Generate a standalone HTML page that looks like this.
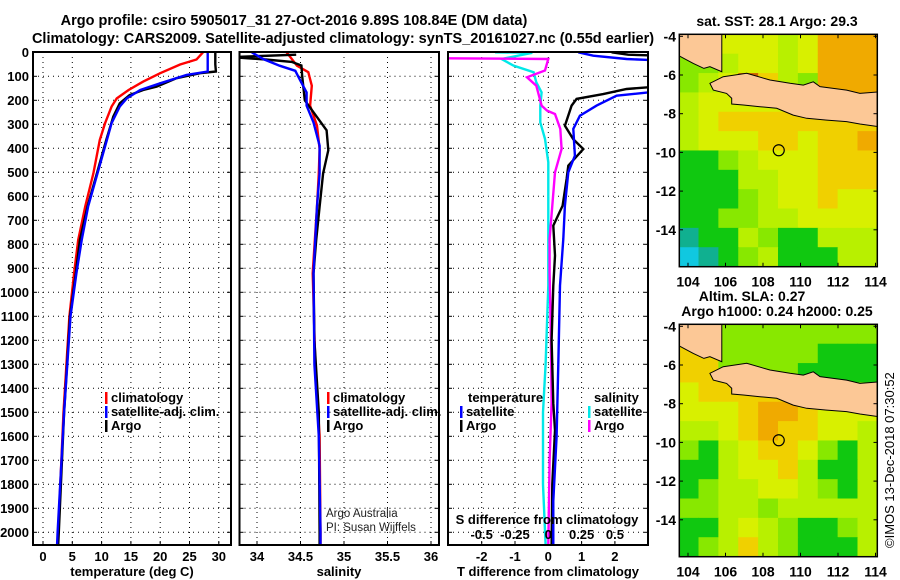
<!DOCTYPE html>
<html><head><meta charset="utf-8">
<style>
html,body{margin:0;padding:0;background:#fff;}
svg{display:block;font-family:"Liberation Sans",Arial,sans-serif;}
.b{font-weight:bold;font-size:14px;}
.h{font-weight:bold;font-size:14.5px;}
.t{font-weight:bold;font-size:13px;}
</style></head>
<body>
<svg id="c" width="900" height="580" viewBox="0 0 900 580" xmlns="http://www.w3.org/2000/svg">
<defs>
<clipPath id="cp1"><rect x="33" y="52" width="198" height="493"/></clipPath>
<clipPath id="cp2"><rect x="239.5" y="52" width="199.5" height="493"/></clipPath>
<clipPath id="cp3"><rect x="448" y="52" width="200" height="493"/></clipPath>
<clipPath id="cm1"><rect x="679.3" y="34.3" width="198" height="232.4"/></clipPath>
<clipPath id="cm2"><rect x="679.3" y="324.3" width="198" height="232.4"/></clipPath>
</defs>
<text x="294" y="25" text-anchor="middle" class="h">Argo profile: csiro 5905017_31 27-Oct-2016 9.89S 108.84E (DM data)</text>
<text x="343" y="43" text-anchor="middle" class="h">Climatology: CARS2009. Satellite-adjusted climatology: synTS_20161027.nc (0.55d earlier)</text>
<text x="777" y="26" text-anchor="middle" class="b">sat. SST: 28.1 Argo: 29.3</text>
<text x="752" y="301" text-anchor="middle" class="b">Altim. SLA: 0.27</text>
<text x="777" y="316" text-anchor="middle" class="b">Argo h1000: 0.24 h2000: 0.25</text>
<text transform="translate(894,548) rotate(-90)" font-size="13">©IMOS 13-Dec-2018 07:30:52</text>
<g id="g"></g>
</svg>
<script>
// ---------- data ----------
const tempDepth = [0,50,80,87,108,143,157,178,212,268,365,504,643,782,921,1100,1500,2000,2050];
const tempArgo  = [29.4,29.4,29.5,26.8,22.8,19.4,17.1,14.8,13.1,12.0,10.8,9.2,7.6,6.3,5.6,4.6,3.6,2.7,2.6];
const tempSatDepth = [0,80,94,129,157,192,226,295,365,504,643,782,921,1100,1500,2000,2050];
const tempSat   = [28.1,28.1,24.5,20.0,16.6,14.3,13.1,11.7,10.9,9.3,7.7,6.6,5.7,4.7,3.6,2.5,2.4];
const tempClimDepth = [0,30,51,87,122,157,192,226,295,365,504,643,782,921,1100,1500,2000,2050];
const tempClim  = [27.3,26.2,23.4,20.0,17.1,14.6,12.6,11.7,10.6,9.7,8.6,7.2,6.0,5.3,4.5,3.5,2.6,2.5];

const salArgoDepth = [10,20,30,40,55,100,200,270,325,408,505,643,782,921,1200,1500,2000,2050];
const salArgo   = [34.45,33.7,34.1,34.4,34.51,34.52,34.55,34.69,34.80,34.82,34.76,34.72,34.68,34.65,34.66,34.71,34.72,34.72];
const salSatDepth = [0,28,56,77,112,167,222,292,389,504,643,921,1300,1600,2000,2050];
const salSat    = [33.94,34.07,34.26,34.44,34.49,34.57,34.57,34.65,34.72,34.72,34.69,34.65,34.66,34.71,34.73,34.73];
const salClimDepth = [0,56,83,139,222,306,403,504,643,921,1300,1600,2000,2050];
const salClim   = [34.34,34.46,34.59,34.63,34.61,34.69,34.72,34.71,34.69,34.64,34.67,34.72,34.73,34.73];

const dTDepth = [0,10,15,140,146,153,174,194,222,306,362,403,472,528,639,722,847,972,1200,1462,1575,1800,2050];
const dTArgo  = [1.9,2.4,3.5,3.5,3.0,2.35,1.65,0.85,0.70,0.50,0.75,1.05,0.60,0.55,0.43,0.15,0.20,0.15,0.10,0.15,0.20,0.12,0.10];
const dTSatDepth = [0,14,28,35,160,181,222,264,319,431,500,639,778,972,1300,1600,1870,2050];
const dTSat   = [0.9,1.35,2.35,3.5,3.5,2.05,1.45,0.95,0.75,0.80,0.60,0.50,0.45,0.35,0.30,0.25,0.15,0.15];
const dSArgoDepth = [25,28,76,104,139,222,243,257,319,403,500,639,778,917,1200,1460,1700,2050];
const dSArgo  = [-0.75,0.0,-0.025,-0.16,-0.09,-0.05,-0.01,0.05,0.09,0.10,0.05,0.03,0.01,0.01,0.02,0.025,0.01,0.0];
const dSSatDepth = [0,2,28,56,83,125,167,222,292,361,458,639,972,1300,1500,1800,2050];
const dSSat   = [-0.4,-0.12,-0.35,-0.26,-0.11,-0.09,-0.05,-0.06,-0.06,-0.025,0.0,0.0,0.0,-0.02,-0.04,-0.04,-0.02];

const depthTicks = [0,100,200,300,400,500,600,700,800,900,1000,1100,1200,1300,1400,1500,1600,1700,1800,1900,2000];
const tempTicks = [0,5,10,15,20,25,30];
const salTicks = [34,34.5,35,35.5,36];
const salTickLabels = ["34","34.5","35","35.5","36"];
const dTTicks = [-2,-1,0,1,2];
const dSTicks = [-0.5,-0.25,0,0.25,0.5];
const dSTickLabels = ["-0.5","-0.25","0","0.25","0.5"];

const sstGrid = [
[6,6,6,6,6,5,6,8,8,8],
[4,4,5,6,6,5,6,8,8,8],
[4,5,6,9,7,5,4,8,8,8],
[5,6,6,6,6,6,6,6,8,8],
[5,6,7,7,7,7,7,7,7,7],
[5,6,6,6,7,7,6,7,7,8],
[3,3,4,5,6,6,6,7,7,7],
[3,3,3,5,5,6,6,7,7,7],
[3,3,3,4,5,6,6,7,6,6],
[3,3,4,4,5,5,6,6,6,6],
[2,3,3,5,4,3,3,5,5,5],
[1,2,3,4,5,3,3,3,5,5]];
const slaGrid = [
[7,7,4,4,4,4,4,4,4,4],
[7,7,4,4,4,4,4,3,3,3],
[7,7,4,4,4,4,3,3,3,3],
[6,7,7,7,7,7,6,6,6,5],
[6,6,6,7,8,8,7,6,6,6],
[5,5,6,7,8,7,7,6,6,5],
[4,3,5,6,7,7,6,4,3,5],
[3,3,5,6,6,7,5,3,3,5],
[3,4,5,5,6,6,5,4,3,5],
[4,4,5,5,4,5,5,5,5,5],
[3,3,5,6,5,4,3,3,4,5],
[3,4,5,7,5,4,3,3,3,5]];
const mapLatTicks = [-4,-6,-8,-10,-12,-14];
const mapLonTicks = [104,106,108,110,112,114];
const javaLon = [105.88,107.13,108.37,109.44,110.15,110.68,111.04,112.46,113.17,114.2,114.2,113.17,112.46,111.4,110.33,109.61,108.73,107.84,106.95,106.33,106.33,106.06,105.35,105.17];
const javaLat = [-6.09,-5.91,-6.26,-6.43,-6.52,-6.35,-6.6,-6.78,-6.95,-6.87,-8.67,-8.53,-8.41,-8.33,-8.24,-8.07,-7.72,-7.64,-7.55,-7.5,-7.2,-6.95,-6.78,-6.43];
const sumLon = [103.4,105.8,105.8,105.17,104.85,104.28,103.4];
const sumLat = [-3.8,-3.8,-5.83,-5.57,-5.66,-5.4,-4.95];
const argoLon = 108.84, argoLat = -9.89;

// ---------- axes ----------
const yD = d => 52.3 + d*0.24;
const xT = v => 43 + v*5.86;
const xS = v => 257 + (v-34)*87;
const xdT = v => 548.3 + v*33.3;
const xdS = v => 548.3 + v*133.3;
const NS = 'http://www.w3.org/2000/svg';
const G = document.getElementById('g');
function mk(tag, attrs, parent){const e=document.createElementNS(NS,tag);for(const k in attrs)e.setAttribute(k,attrs[k]);(parent||G).appendChild(e);return e;}
function txt(x,y,s,anchor,cls,parent){const e=mk('text',{x:x,y:y,'text-anchor':anchor||'middle','class':cls||'t'},parent);e.textContent=s;return e;}

const panels=[{x0:33,x1:231,cp:'cp1',name:'temperature'},{x0:239.5,x1:439,cp:'cp2',name:'salinity'},{x0:448,x1:648,cp:'cp3',name:'difference'}];
panels.forEach(p=>{
  const gp=mk('g',{});
  
  
  depthTicks.forEach(d=>{
    const l=mk('line',{x1:p.x0,x2:p.x1,y1:yD(d),y2:yD(d),stroke:'#000','stroke-width':1,'stroke-dasharray':'1,4'},gp);
    
    
    mk('line',{x1:p.x0,x2:p.x0+4,y1:yD(d),y2:yD(d),stroke:'#000'},gp);
    mk('line',{x1:p.x1-4,x2:p.x1,y1:yD(d),y2:yD(d),stroke:'#000'},gp);
  });
});
depthTicks.forEach(d=>{
  const t=txt(29,yD(d)+4.5,String(d),'end');
  
  
});
function vgrid(vals,fx){vals.forEach(v=>{
  const l=mk('line',{x1:fx(v),x2:fx(v),y1:52,y2:545,stroke:'#000','stroke-width':1,'stroke-dasharray':'1,4'});
  
  
  mk('line',{x1:fx(v),x2:fx(v),y1:541,y2:545,stroke:'#000'});
});}
vgrid(tempTicks,xT); vgrid(salTicks,xS); vgrid(dTTicks,xdT);
tempTicks.forEach(v=>{const t=txt(xT(v),561,String(v));});
salTicks.forEach((v,i)=>{const t=txt(xS(v),561,salTickLabels[i]);});
dTTicks.forEach(v=>{const t=txt(xdT(v),561,String(v));});
let xt;
xt=txt(132,576,'temperature (deg C)');
xt=txt(339,576,'salinity');
xt=txt(548,576,'T difference from climatology');

function line(ds,vs,fx,color,cp,name,w){
  const pts=ds.map((d,i)=>fx(vs[i]).toFixed(1)+','+yD(d).toFixed(1)).join(' ');
  const e=mk('polyline',{points:pts,fill:'none',stroke:color,'stroke-width':w||2.4,'clip-path':'url(#'+cp+')','stroke-linejoin':'miter'});
  
  
}
line(tempClimDepth,tempClim,xT,'#ff0000','cp1','temp-climatology-line');
line(tempDepth,tempArgo,xT,'#000000','cp1','temp-argo-line');
line(tempSatDepth,tempSat,xT,'#0000ff','cp1','temp-satellite-line');
line(salClimDepth,salClim,xS,'#ff0000','cp2','sal-climatology-line');
line(salArgoDepth,salArgo,xS,'#000000','cp2','sal-argo-line');
line(salSatDepth,salSat,xS,'#0000ff','cp2','sal-satellite-line');
line(dSSatDepth,dSSat,xdS,'#00e8e8','cp3','s-diff-satellite-line');
line(dSArgoDepth,dSArgo,xdS,'#ff00ff','cp3','s-diff-argo-line');
line(dTDepth,dTArgo,xdT,'#000000','cp3','t-diff-argo-line');
line(dTSatDepth,dTSat,xdT,'#0000ff','cp3','t-diff-satellite-line');

panels.forEach(p=>{const r=mk('rect',{x:p.x0,y:52,width:p.x1-p.x0,height:493,fill:'none',stroke:'#000','stroke-width':2});});

// legends
function legItem(x,y,color,label,name){
  const g=mk('g',{});
  
  
  mk('rect',{x:x,y:y-10,width:2.5,height:12,fill:color},g);
  txt(x+6,y,label,'start','t',g);
}
legItem(105,402,'#ff0000','climatology','legend-entry-climatology');
legItem(105,416,'#0000ff','satellite-adj. clim.','legend-entry-satellite');
legItem(105,430,'#000000','Argo','legend-entry-argo');
legItem(327,402,'#ff0000','climatology','legend-entry-climatology');
legItem(327,416,'#0000ff','satellite-adj. clim.','legend-entry-satellite');
legItem(327,430,'#000000','Argo','legend-entry-argo');
xt=txt(468,402,'temperature','start');
legItem(460,416,'#0000ff','satellite','legend-entry-t-satellite');
legItem(460,430,'#000000','Argo','legend-entry-t-argo');
xt=txt(594,402,'salinity','start');
legItem(588,416,'#00e8e8','satellite','legend-entry-s-satellite');
legItem(588,430,'#ff00ff','Argo','legend-entry-s-argo');
xt=txt(547,524,'S difference from climatology');
dSTicks.forEach((v,i)=>{const t=txt(xdS(v),539,dSTickLabels[i]);});
xt=mk('text',{x:326,y:517,'font-size':11.5,fill:'#222'});xt.textContent='Argo Australia';
xt=mk('text',{x:326,y:531,'font-size':11.5,fill:'#222'});xt.textContent='PI: Susan Wijffels';

// ---------- maps ----------
const cmap=['#1040e0','#10c8e0','#10b090','#10c810','#88e800','#b8f000','#d8f000','#f0d000','#f0aa00','#d06000'];
const lonX = lon => 688 + (lon-104)*18.75;
function drawMap(grid,top,cp,name){
  const latY = lat => top + 2 + (-4-lat)*19.35;
  const gm=mk('g',{'clip-path':'url(#'+cp+')'});
  
  
  const cw=(114.1-103.5)/grid[0].length;
  grid.forEach((row,r)=>row.forEach((v,c)=>{
    const x0=lonX(103.5+c*cw), x1=lonX(103.5+(c+1)*cw);
    const y0=latY(-3.9-r), y1=latY(-4.9-r);
    const cell=mk('rect',{x:x0,y:y0,width:x1-x0+0.5,height:y1-y0+0.5,fill:cmap[v]},gm);
    
    
  }));
  const poly=(lo,la,nm)=>{const p=mk('polygon',{points:lo.map((l,i)=>lonX(l).toFixed(1)+','+latY(la[i]).toFixed(1)).join(' '),fill:'#fcc896',stroke:'#000','stroke-width':1},gm);};
  poly(sumLon,sumLat,'land-sumatra');
  poly(javaLon,javaLat,'land-java');
  const c=mk('circle',{cx:lonX(argoLon),cy:latY(argoLat),r:5.5,fill:'none',stroke:'#000','stroke-width':1.2},gm);
  
  
  const fr=mk('rect',{x:679.3,y:top,width:198,height:232.4,fill:'none',stroke:'#000','stroke-width':1.5});
  
  
  mapLatTicks.forEach(l=>{
    mk('line',{x1:679.3,x2:683,y1:latY(l),y2:latY(l),stroke:'#000'});
    mk('line',{x1:873.5,x2:877.3,y1:latY(l),y2:latY(l),stroke:'#000'});
    const t=txt(676,latY(l)+5,String(l),'end','b');
    
    
  });
  mapLonTicks.forEach(l=>{
    mk('line',{x1:lonX(l),x2:lonX(l),y1:top,y2:top+4,stroke:'#000'});
    mk('line',{x1:lonX(l),x2:lonX(l),y1:top+228.5,y2:top+232.4,stroke:'#000'});
    const t=txt(lonX(l),top+252,String(l),'middle','b');
    
    
  });
}
drawMap(sstGrid,34.3,'cm1','sst-map');
drawMap(slaGrid,324.3,'cm2','sla-map');
</script>
</body></html>
